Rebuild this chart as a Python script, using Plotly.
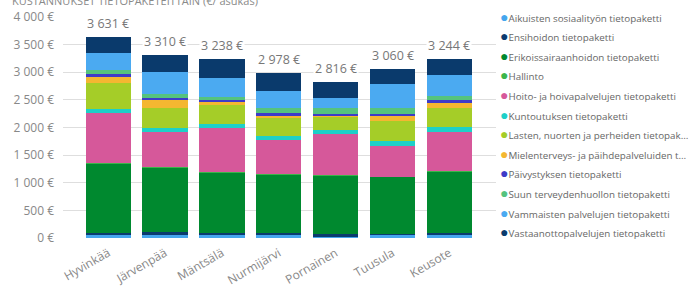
import plotly.graph_objects as go

categories = ["Hyvinkää", "Järvenpää", "Mäntsälä", "Nurmijärvi", "Pornainen", "Tuusula", "Keusote"]

series_names = [
    "Aikuisten sosiaalityön tietopaketti",
    "Ensihoidon tietopaketti",
    "Erikoissairaanhoidon tietopaketti",
    "Hallinto",
    "Hoito- ja hoivapalvelujen tietopaketti",
    "Kuntoutuksen tietopaketti",
    "Lasten, nuorten ja perheiden tietopak…",
    "Mielenterveys- ja päihdepalveluiden t…",
    "Päivystyksen tietopaketti",
    "Suun terveydenhuollon tietopaketti",
    "Vammaisten palvelujen tietopaketti",
    "Vastaanottopalvelujen tietopaketti",
]

aikuisten = [65, 72, 66, 66, 15, 66, 66]
ensihoito = [25, 30, 24, 24, 60, 10, 24]
erikoissairaanhoito = [1264, 1176, 1094, 1057, 1056, 1033, 1118]
hallinto = [4, 4, 4, 4, 4, 4, 4]
hoito_hoiva = [899, 633, 808, 627, 748, 561, 700]
kuntoutus = [78, 78, 72, 66, 66, 90, 96]
lasten = [470, 368, 356, 320, 248, 356, 350]
mielenterveys = [103, 151, 30, 60, 15, 96, 90]
paivystys = [60, 24, 42, 30, 36, 30, 54]
suun = [66, 66, 60, 90, 103, 103, 72]
vammaiset = [314, 398, 338, 314, 181, 434, 368]
vastaanotto = [283, 310, 344, 320, 284, 277, 302]

series_values = [aikuisten, ensihoito, erikoissairaanhoito, hallinto, hoito_hoiva, kuntoutus,
                 lasten, mielenterveys, paivystys, suun, vammaiset, vastaanotto]

colors = ["#45A6EE", "#0B3B6F", "#00892F", "#3BB54A", "#D6589A", "#1DD0C8",
          "#A5CD28", "#F4B731", "#3E3BC8", "#55C37E", "#4BAAF1", "#0A3A6C"]

y_ticks = [0, 500, 1000, 1500, 2000, 2500, 3000, 3500, 4000]
title_text = "KUSTANNUKSET TIETOPAKETEITTAIN (€/ asukas)"

W, H = 700, 289
ML, MR, MT, MB = 63, 204, 17, 51
PW, PH = W - ML - MR, H - MT - MB


def eur(v):
    return f"{round(v):,}".replace(",", " ") + " €"


def px_to_paper(xp, yp):
    return (xp - ML) / PW, (H - MB - yp) / PH


fig = go.Figure()
for name, vals, col in zip(series_names, series_values, colors):
    fig.add_trace(go.Bar(x=categories, y=vals, name=name,
                         marker=dict(color=col, line=dict(width=0)), showlegend=False))

totals = [sum(v[i] for v in series_values) for i in range(len(categories))]
for c, t in zip(categories, totals):
    fig.add_annotation(x=c, y=t, text=eur(t), showarrow=False, yanchor="bottom", yshift=3,
                       bgcolor="white", borderpad=1,
                       font=dict(size=12.5, color="#777777"))

# title (cut off at top of the view, as in the reference)
tx, ty = px_to_paper(10, 0)
fig.add_annotation(xref="paper", yref="paper", x=tx, y=ty, xanchor="left", yanchor="middle",
                   text=title_text, showarrow=False, font=dict(size=11, color="#8a8a8a"))

# legend built as text entries
for i, (name, col) in enumerate(zip(series_names, colors)):
    lx, ly = px_to_paper(498, 16 + i * 19.6)
    fig.add_annotation(xref="paper", yref="paper", x=lx, y=ly, xanchor="left", yanchor="middle",
                       showarrow=False, align="left",
                       text=f"<span style='color:{col};font-size:14px'>●</span>{name}",
                       font=dict(size=9.8, color="#666666"))

fig.update_layout(
    width=W, height=H,
    margin=dict(l=ML, r=MR, t=MT, b=MB, autoexpand=False),
    barmode="stack", bargap=0.205,
    plot_bgcolor="white", paper_bgcolor="white",
    showlegend=False,
    font=dict(family="Segoe UI, Open Sans, sans-serif", color="#777777"),
    xaxis=dict(range=[-0.795, 6.82], tickangle=-30, tickfont=dict(size=12, color="#888888"),
               showgrid=False, zeroline=False, showline=False, ticks="", ticklabelstandoff=5),
    yaxis=dict(range=[0, 4000], tickvals=y_ticks, ticktext=[eur(v) for v in y_ticks],
               tickfont=dict(size=12, color="#888888"), showgrid=True, gridcolor="#dedede",
               gridwidth=1, zeroline=False, showline=False, ticks="", ticklabelstandoff=8),
)

fig.write_html("out.html", config={"displayModeBar": False},
               post_script="document.body.style.margin='0';")
